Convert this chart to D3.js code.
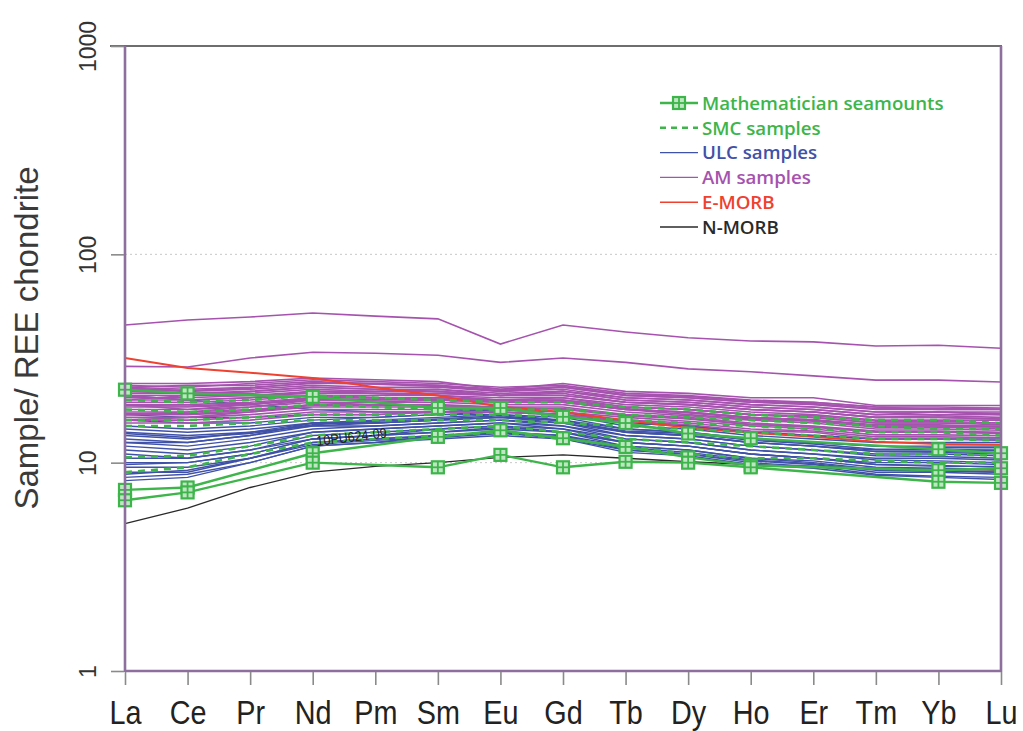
<!DOCTYPE html>
<html><head><meta charset="utf-8">
<script src="https://cdn.jsdelivr.net/npm/d3@7"></script>
<style>body{margin:0;background:#fff}</style>
</head><body>
<svg id="c" width="1023" height="731"></svg>
<script>
// ---- data ----
const elements = ["La","Ce","Pr","Nd","Pm","Sm","Eu","Gd","Tb","Dy","Ho","Er","Tm","Yb","Lu"];
const yTickValues = [1, 10, 100, 1000];
const yTickLabels = ["1", "10", "100", "1000"];

const seamount1 = [22.4, 21.5, null, 20.7, null, 18.3, 18.3, 16.6, 15.5, 13.8, 13.1, null, null, 11.6, 11.1];
const seamount2 = [7.4, 7.6, null, 11.1, null, 13.3, 14.3, 13.1, 11.9, 10.6, 9.7, null, null, 9.2, 9.4];
const seamount3 = [6.6, 7.2, null, 10.0, null, 9.5, 10.9, 9.5, 10.1, 10.0, 9.5, null, null, 8.1, 8.0];

const smcSamples = [
  [20, 19.5, 20, 21, 20.5, 20, 19.5, 19.5, 18.5, 18, 17, 16.5, 16, 16, 15.5],
  [18, 17.5, 18, 19, 18.5, 18, 18, 18, 17, 16.5, 16, 15.5, 15, 14.5, 14.5],
  [16, 16, 16.5, 17, 17, 17, 17, 16.5, 16, 15.5, 15, 14.5, 14, 14, 13.5],
  [15, 15, 15.5, 16, 16, 16, 16, 15.5, 15, 14.5, 14, 13.5, 13, 13, 12.8],
  [10.6, 10.8, 12, 13.5, 14, 14.5, 15, 14, 13, 12.5, 12, 11.5, 11, 11, 10.8],
  [9, 9.5, 11, 12.5, 13, 13.5, 14, 13, 12, 11, 10.5, 10.5, 10.2, 10, 10]
];

const ulcSamples = [
  [16, 15.5, 15.5, 16.5, 16.5, 17, 17.5, 17, 15, 14.5, 13.5, 13, 12.5, 12.5, 12.5],
  [15, 14.5, 15, 16, 16.5, 17, 17, 16.5, 14.5, 14, 13, 12.5, 12, 12, 12],
  [14.5, 14, 14.5, 15.5, 16, 16.5, 17, 16, 14.5, 14, 13, 12.5, 12, 11.8, 11.8],
  [14, 13.5, 14, 15.5, 15.5, 16, 16.5, 16, 14, 13.5, 12.5, 12, 11.5, 11.5, 11.5],
  [13.5, 13, 14, 15, 15.5, 16, 16.5, 15.5, 14, 13.5, 12.5, 12, 11.3, 11.2, 11],
  [13, 12.5, 13.5, 15, 15, 15.5, 16, 15.5, 13.5, 13, 12, 11.5, 11, 11, 10.8],
  [12.5, 12, 13, 14.5, 15, 15.5, 16, 15, 13.5, 13, 12, 11.5, 10.8, 10.7, 10.5],
  [12, 11.5, 12.5, 14, 14.5, 15, 15.5, 15, 13, 12.5, 11.5, 11, 10.5, 10.5, 10.3],
  [11.5, 11, 12, 14, 14.5, 15, 15.5, 14.5, 13, 12.5, 11.5, 11, 10.3, 10.2, 10],
  [11, 10.5, 11.5, 13.5, 14, 14.5, 15, 14.5, 12.5, 12, 11, 10.5, 10, 10, 9.8],
  [10.5, 10.5, 11.5, 13, 13.5, 14.5, 15, 14, 12.5, 12, 11, 10.5, 9.8, 9.7, 9.5],
  [10, 10, 11, 13, 13.5, 14, 14.5, 14, 12, 11.5, 10.5, 10.2, 9.5, 9.4, 9.3],
  [9.5, 9.5, 10.5, 12.5, 13, 13.5, 14, 13.5, 12, 11.5, 10.5, 10, 9.3, 9.2, 9],
  [9, 9, 10.5, 12.5, 13, 13.5, 14, 13.5, 11.5, 11, 10.2, 9.8, 9, 9, 8.8],
  [8.5, 8.8, 10, 12, 12.5, 13.5, 14, 13, 11.5, 11, 10, 9.6, 8.8, 8.6, 8.5],
  [8.2, 8.5, 10, 12, 12.5, 13, 13.5, 13, 11.2, 10.8, 9.8, 9.4, 8.7, 8.5, 8.3],
  [17, 16.5, 16.5, 17, 17, 17.5, 18, 17.5, 15.5, 15, 14, 13.5, 13, 13, 12.8],
  [21, 20, 19, 18, 17.5, 17.5, 18, 17, 15.5, 15, 14, 13.5, 13, 13, 13],
  [12.5, 12.5, 13.5, 15.5, 15.5, 16, 16.5, 16, 14, 13.5, 12.5, 12, 11.3, 11.3, 11.2],
  [9.8, 10, 11, 13, 13.5, 14, 14.8, 14, 12.5, 12, 11, 10.5, 9.8, 9.6, 9.6],
  [8.8, 9.2, 10.5, 12.2, 12.8, 13.2, 13.8, 13.2, 11.8, 11.2, 10.3, 9.9, 9.2, 9.1, 9.0],
  [13.8, 13.2, 13.8, 15.2, 15.8, 16.2, 16.8, 15.8, 14.2, 13.8, 12.8, 12.3, 11.6, 11.6, 11.4]
];

const amSamples = [
  [45.8, 48.4, 50, 52.3, 50.5, 49.0, 37.1, 45.8, 42.4, 39.8, 38.4, 38.0, 36.3, 36.6, 35.4],
  [29.0, 28.8, 31.8, 33.9, 33.5, 32.8, 30.3, 31.8, 30.3, 28.2, 27.3, 26.1, 24.9, 24.9, 24.4],
  [24, 24, 24.5, 25.5, 25, 24.5, 22.5, 24, 22, 21.5, 20.5, 20.5, 18.8, 18.8, 18.8],
  [23.5, 23, 24, 25, 24.5, 24, 23, 23.5, 21.5, 21, 20, 19.5, 18.5, 18.5, 18.3],
  [23, 22.5, 23, 24, 24, 23.5, 22, 23, 21, 20.5, 19.5, 19, 18, 18, 18],
  [22.5, 22, 22.5, 23.5, 23, 23, 22, 22.5, 20.5, 20, 19, 18.5, 17.5, 17.5, 17.5],
  [22, 21.5, 22, 23, 22.5, 22.5, 21.5, 22, 20, 19.5, 18.5, 18, 17, 17, 17],
  [21.5, 21.5, 21.5, 22.5, 22, 22, 21, 21.5, 19.5, 19, 18, 17.5, 16.5, 16.8, 16.5],
  [21, 21, 21, 22, 21.5, 21.5, 21, 21, 19.5, 19, 18, 17.5, 16.5, 16.5, 16.2],
  [20.5, 20.5, 21, 21.5, 21.5, 21, 20.5, 20.5, 19, 18.5, 17.5, 17, 16, 16, 16],
  [20, 20, 20.5, 21, 21, 21, 20, 20.5, 18.5, 18, 17, 16.8, 15.8, 15.8, 15.5],
  [19.5, 19.5, 20, 21, 20.5, 20.5, 20, 20, 18.5, 18, 17, 16.5, 15.5, 15.5, 15.2],
  [19, 19, 19.5, 20.5, 20.5, 20, 19.5, 19.5, 18, 17.5, 16.5, 16, 15, 15, 15],
  [18.5, 18.5, 19, 20, 20, 20, 19.5, 19.5, 18, 17, 16.2, 15.8, 14.8, 14.8, 14.6],
  [18, 18, 18.5, 19.5, 19.5, 19.5, 19, 19, 17.5, 16.8, 16, 15.5, 14.5, 14.5, 14.3],
  [17.5, 17.5, 18, 19, 19, 19, 18.5, 18.5, 17, 16.5, 15.5, 15, 14.2, 14.2, 14],
  [17, 17, 17.5, 18.5, 18.5, 18.5, 18.5, 18, 16.8, 16.2, 15.2, 14.8, 14, 14, 13.8],
  [16.5, 16.5, 17, 18, 18, 18, 18, 17.5, 16.5, 15.8, 15, 14.5, 13.6, 13.6, 13.5],
  [16, 16, 16.5, 17.5, 17.5, 17.5, 17.5, 17, 16, 15.5, 14.5, 14.2, 13.3, 13.3, 13.2],
  [15.5, 15.5, 16, 17, 17, 17.5, 17.5, 17, 15.8, 15.2, 14.2, 14, 13, 13, 12.9],
  [21, 20, 20.5, 22, 22, 22.5, 21, 22, 20, 19.5, 18.5, 18, 17, 17.5, 17],
  [19, 18, 19, 20.5, 21, 21.5, 21, 21, 19.5, 19, 18, 17.5, 16.5, 16.5, 16.2],
  [17, 17.5, 18.5, 20, 20, 20.5, 20, 20, 18.5, 18, 17, 16.5, 15.5, 15.5, 15.5],
  [16, 16.5, 17.5, 19, 19.5, 20, 19.5, 19.5, 18, 17.5, 16.5, 16, 15, 15, 14.8],
  [23, 23.5, 23.5, 24.5, 24, 23.5, 22.5, 23, 21, 20.5, 19.5, 19.5, 18.5, 18, 18],
  [20, 21, 22, 23, 22.5, 22, 21, 22, 20.5, 20, 19, 18.5, 17.5, 17.5, 17.2],
  [22.8, 22.2, 22.8, 24.2, 23.8, 23.2, 22.2, 23.2, 21.2, 20.8, 19.8, 19.2, 18.2, 18.2, 18.1],
  [18.8, 18.7, 19.2, 20.2, 20.2, 20.2, 19.8, 19.8, 18.2, 17.3, 16.4, 16.1, 15.2, 15.2, 14.9],
  [17.2, 17.2, 17.8, 18.8, 18.8, 18.8, 18.2, 18.2, 16.9, 16.3, 15.3, 14.9, 14.1, 14.1, 13.9]
];

const eMorb = [31.8, 28.5, 27, 25.5, 23, 21, 18.5, 17.5, 16, 14.7, 13.9, 13.3, 12.6, 12.3, 12.2];
const nMorb = [5.1, 6.05, 7.6, 9.0, 9.6, 10.0, 10.6, 10.9, 10.5, 10.1, 9.8, 9.6, 9.4, 9.3, 9.2];

const legendLabels = ["Mathematician seamounts", "SMC samples", "ULC samples", "AM samples", "E-MORB", "N-MORB"];
const sampleLabel = "10PU624-09";

// ---- styles ----
const C = {
  green: "#3db54a", blue: "#3f51a8", purple: "#a553ae", red: "#ef4130",
  black: "#2a2a2a", axis: "#8e6e9c", tick: "#8a8a8a"
};

const svg = d3.select("#c");
const m = {l: 125, r: 1001, t: 46, b: 671};
const x = d3.scalePoint().domain(elements).range([m.l, m.r]);
const y = d3.scaleLog().domain([1, 1000]).range([m.b, m.t]);

// gridlines (dotted)
svg.append("g").selectAll("line").data([10, 100]).join("line")
  .attr("x1", m.l).attr("x2", m.r).attr("y1", d => y(d)).attr("y2", d => y(d))
  .attr("stroke", "#c8c8c8").attr("stroke-width", 1).attr("stroke-dasharray", "2,3");

function lineOf(arr) {
  const pts = elements.map((e, i) => [x(e), arr[i]]).filter(p => p[1] != null);
  return d3.line().x(p => p[0]).y(p => y(p[1]))(pts);
}

const plot = svg.append("g");
// N-MORB
plot.append("path").attr("d", lineOf(nMorb)).attr("fill", "none").attr("stroke", C.black).attr("stroke-width", 1.3);
// ULC
plot.append("g").selectAll("path").data(ulcSamples).join("path")
  .attr("d", lineOf).attr("fill", "none").attr("stroke", C.blue).attr("stroke-width", 1.4);
// AM
plot.append("g").selectAll("path").data(amSamples).join("path")
  .attr("d", lineOf).attr("fill", "none").attr("stroke", C.purple).attr("stroke-width", 1.6);
// E-MORB
plot.append("path").attr("d", lineOf(eMorb)).attr("fill", "none").attr("stroke", C.red).attr("stroke-width", 2);
// SMC dashed
plot.append("g").selectAll("path").data(smcSamples).join("path")
  .attr("d", lineOf).attr("fill", "none").attr("stroke", C.green).attr("stroke-width", 2.6)
  .attr("stroke-dasharray", "7,6");

// seamounts
function marker(g, cx, cy) {
  const s = 12;
  g.append("rect").attr("x", cx - s / 2).attr("y", cy - s / 2).attr("width", s).attr("height", s)
    .attr("fill", "#bfe6c3").attr("stroke", C.green).attr("stroke-width", 2.2);
  g.append("line").attr("x1", cx).attr("x2", cx).attr("y1", cy - s / 2).attr("y2", cy + s / 2)
    .attr("stroke", C.green).attr("stroke-width", 1.8);
  g.append("line").attr("x1", cx - s / 2).attr("x2", cx + s / 2).attr("y1", cy).attr("y2", cy)
    .attr("stroke", C.green).attr("stroke-width", 1.8);
}
const seamounts = [seamount1, seamount2, seamount3];
const sg = plot.append("g");
seamounts.forEach(arr => {
  sg.append("path").attr("d", lineOf(arr)).attr("fill", "none").attr("stroke", C.green).attr("stroke-width", 2.4);
});
seamounts.forEach(arr => {
  arr.forEach((v, i) => { if (v != null) marker(sg, x(elements[i]), y(v)); });
});

// sample label
svg.append("text").attr("transform", `translate(317,446) rotate(-7) scale(0.9,1)`)
  .attr("font-family", "Liberation Sans, Arial, sans-serif")
  .attr("font-size", 14).attr("fill", "#222").text(sampleLabel);

// axes frame
svg.append("line").attr("x1", 110).attr("x2", m.r + 1).attr("y1", m.t).attr("y2", m.t)
  .attr("stroke", "#6e6e6e").attr("stroke-width", 2);
const fr = svg.append("g").attr("stroke", C.axis).attr("stroke-width", 2.6).attr("fill", "none");
fr.append("line").attr("x1", m.l).attr("x2", m.l).attr("y1", m.t).attr("y2", m.b + 1);
fr.append("line").attr("x1", m.r).attr("x2", m.r).attr("y1", m.t).attr("y2", m.b + 1);
fr.append("line").attr("x1", m.l).attr("x2", m.r).attr("y1", m.b).attr("y2", m.b);

// y axis ticks & labels
const yAxis = d3.axisLeft(y).tickValues(yTickValues).tickFormat((d, i) => yTickLabels[i]).tickSize(13).tickPadding(0);
const ya = svg.append("g").attr("transform", `translate(${m.l - 1},0)`).call(yAxis);
ya.select(".domain").remove();
ya.selectAll(".tick line").attr("stroke", C.tick).attr("stroke-width", 1.6);
ya.selectAll(".tick text")
  .attr("transform", "translate(-36,0) rotate(-90)")
  .attr("x", 0).attr("dy", "0.35em")
  .attr("text-anchor", "middle")
  .attr("font-family", "Liberation Sans, Arial, sans-serif").attr("font-size", 23).attr("fill", "#333");

// x axis
const xAxis = d3.axisBottom(x).tickSize(13).tickPadding(16);
const xa = svg.append("g").attr("transform", `translate(0,${m.b + 1})`).call(xAxis);
xa.select(".domain").remove();
xa.selectAll(".tick line").attr("stroke", C.tick).attr("stroke-width", 1.6);
xa.selectAll(".tick text")
  .attr("y", null).attr("dy", null)
  .attr("transform", "translate(0,52) scale(0.9,1.06)")
  .attr("font-family", "Liberation Sans, Arial, sans-serif")
  .attr("font-size", 32).attr("fill", "#222");

// y title
svg.append("text").attr("transform", "translate(38,338) rotate(-90)")
  .attr("text-anchor", "middle")
  .attr("font-family", "Liberation Sans, Arial, sans-serif").attr("font-size", 33).attr("fill", "#3a3a3a")
  .text("Sample/ REE chondrite");

// legend
const lg = svg.append("g");
const lx1 = 660, lx2 = 698, ly0 = 103, ldy = 24.8;
const legColors = [C.green, C.green, C.blue, C.purple, C.red, C.black];
legendLabels.forEach((lab, i) => {
  const yy = ly0 + i * ldy;
  const ln = lg.append("line").attr("x1", lx1).attr("x2", lx2).attr("y1", yy).attr("y2", yy)
    .attr("stroke", legColors[i]).attr("stroke-width", i < 2 ? 2.6 : 1.4);
  if (i === 1) ln.attr("stroke-dasharray", "6,5");
  if (i === 0) marker(lg, (lx1 + lx2) / 2, yy);
  lg.append("text").attr("x", lx2 + 4).attr("y", yy).attr("dy", "0.36em")
    .attr("font-family", "Open Sans, sans-serif").attr("font-weight", 600).attr("font-size", 18.7)
    .attr("fill", legColors[i]).text(lab);
});
</script>
</body></html>
